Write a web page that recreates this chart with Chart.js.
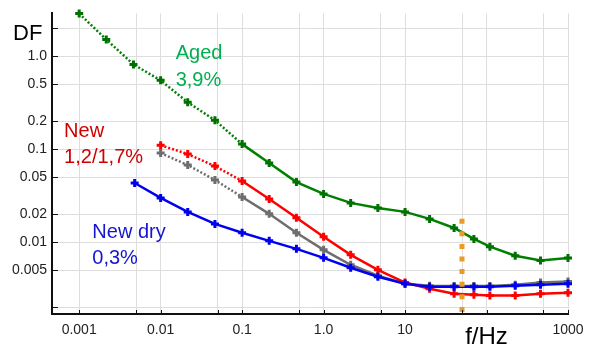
<!DOCTYPE html>
<html>
<head>
<meta charset="utf-8">
<script src="https://cdn.jsdelivr.net/npm/chart.js@4.4.1/dist/chart.umd.min.js"></script>
<style>
html, body { margin: 0; padding: 0; background: #fff; }
#wrap { width: 592px; height: 347px; position: relative; }
</style>
</head>
<body>
<div id="wrap"><canvas id="dfChart"></canvas></div>
<script>
"use strict";

// frequencies in Hz
var freqAged = [0.001, 0.00215, 0.00464, 0.01, 0.0215, 0.0464, 0.1, 0.215, 0.464, 1, 2.15, 4.64, 10, 20, 40, 70, 110, 225, 460, 1000];
var freqNew = [0.01, 0.0215, 0.0464, 0.1, 0.215, 0.464, 1, 2.15, 4.64, 10, 20, 40, 70, 110, 225, 460, 1000];
var freqDry = [0.0048, 0.01, 0.0215, 0.0464, 0.1, 0.215, 0.464, 1, 2.15, 4.64, 10, 20, 40, 70, 110, 225, 460, 1000];

// dissipation factor
var dfAged = [2.89, 1.52, 0.82, 0.553, 0.321, 0.206, 0.114, 0.0713, 0.0446, 0.0332, 0.0266, 0.0235, 0.0213, 0.0179, 0.0143, 0.0109, 0.0090, 0.0072, 0.0064, 0.0068];
var dfNewRed = [0.111, 0.0891, 0.0662, 0.0457, 0.0293, 0.0184, 0.0115, 0.00736, 0.00508, 0.0037, 0.00318, 0.00281, 0.00274, 0.00268, 0.00268, 0.00281, 0.00288];
var dfNewGray = [0.0913, 0.0679, 0.0469, 0.0308, 0.0203, 0.0127, 0.00833, 0.00575, 0.00439, 0.0036, 0.00343, 0.0034, 0.0034, 0.0034, 0.0035, 0.0037, 0.0038];
var dfDry = [0.0435, 0.0301, 0.0213, 0.0158, 0.0127, 0.0104, 0.00853, 0.00683, 0.00534, 0.00428, 0.0036, 0.00334, 0.00334, 0.00334, 0.00334, 0.00343, 0.0035, 0.0036];

// 50 Hz marker
var markFreq = [50, 50];
var markDf = [0.018, 0.00176];

var xTicks = [0.001, 0.005, 0.01, 0.05, 0.1, 0.5, 1, 5, 10, 50, 100, 500, 1000];
var xLabels = { 0.001: "0.001", 0.01: "0.01", 0.1: "0.1", 1: "1.0", 10: "10", 1000: "1000" };
var yTicks = [0.002, 0.005, 0.01, 0.02, 0.05, 0.1, 0.2, 0.5, 1, 2];
var yLabels = { 0.005: "0.005", 0.01: "0.01", 0.02: "0.02", 0.05: "0.05", 0.1: "0.1", 0.2: "0.2", 0.5: "0.5", 1: "1.0" };

function pts(xs, ys) {
    return xs.map(function (x, i) { return { x: x, y: ys[i] }; });
}

// low frequency part of the wet/aged curves is drawn dotted
var dotted = function (c) { return c.p1.parsed.x <= 0.1001 ? [2, 2] : undefined; };

function series(data, color, ptColor, dashFn) {
    var ds = {
        data: data,
        borderColor: color,
        backgroundColor: color,
        pointBorderColor: ptColor || color,
        borderWidth: 2.5,
        pointStyle: 'cross',
        pointRadius: 4,
        pointBorderWidth: 3,
        tension: 0,
        clip: false
    };
    if (dashFn) ds.segment = { borderDash: dashFn };
    return ds;
}

var notes = [
    { lines: ["Aged", "3,9%"], x: 0.0153, y: [0.929, 0.477], color: '#00b050' },
    { lines: ["New", "1,2/1,7%"], x: 0.000653, y: [0.1355, 0.0713], color: '#d00000' },
    { lines: ["New dry", "0,3%"], x: 0.00145, y: [0.0112, 0.0059], color: '#1515d0' }
];

var extras = {
    id: 'extras',
    afterDraw: function (chart) {
        var c = chart.ctx, xs = chart.scales.x, ys = chart.scales.y, a = chart.chartArea;
        c.save();
        // inner ticks
        c.strokeStyle = '#111';
        c.lineWidth = 1;
        yTicks.forEach(function (v) {
            var p = Math.round(ys.getPixelForValue(v)) + 0.5;
            c.beginPath(); c.moveTo(a.left, p); c.lineTo(a.left + 6, p); c.stroke();
        });
        xTicks.forEach(function (v) {
            var p = Math.round(xs.getPixelForValue(v)) + 0.5;
            c.beginPath(); c.moveTo(p, a.bottom); c.lineTo(p, a.bottom - 4); c.stroke();
        });
        // series notes
        c.font = '20px "Liberation Sans", Arial, sans-serif';
        c.textAlign = 'left';
        c.textBaseline = 'alphabetic';
        notes.forEach(function (n) {
            c.fillStyle = n.color;
            n.lines.forEach(function (t, i) {
                c.fillText(t, xs.getPixelForValue(n.x), ys.getPixelForValue(n.y[i]));
            });
        });
        // axis titles
        c.fillStyle = '#000';
        c.font = '22px "Liberation Sans", Arial, sans-serif';
        c.fillText("DF", 13, 40);
        c.font = '24px "Liberation Sans", Arial, sans-serif';
        c.textAlign = 'center';
        c.fillText("f/Hz", xs.getPixelForValue(100), 344);
        c.restore();
    }
};

var ctx = document.getElementById("dfChart").getContext("2d");
new Chart(ctx, {
    type: 'line',
    data: {
        datasets: [
            {
                data: pts(markFreq, markDf),
                borderColor: '#ec9a22',
                borderWidth: 5,
                borderDash: [5, 7.6],
                borderCapStyle: 'butt',
                pointRadius: 0,
                clip: false
            },
            series(pts(freqDry, dfDry), '#0000f0'),
            series(pts(freqNew, dfNewRed), '#ff0000', null, dotted),
            series(pts(freqNew, dfNewGray), '#6e6e6e', null, dotted),
            series(pts(freqAged, dfAged), '#008000', '#007000', dotted)
        ]
    },
    options: {
        responsive: true,
        maintainAspectRatio: false,
        animation: false,
        layout: { padding: { top: 12, right: 24, left: 0, bottom: 0 } },
        plugins: { legend: { display: false }, tooltip: { enabled: false } },
        scales: {
            x: {
                type: 'logarithmic',
                min: 0.000464,
                max: 1000,
                afterBuildTicks: function (s) { s.ticks = xTicks.map(function (v) { return { value: v }; }); },
                afterFit: function (s) { s.height = 33; },
                ticks: {
                    autoSkip: false,
                    maxRotation: 0,
                    padding: 8,
                    color: '#222',
                    font: { family: '"Liberation Sans", Arial, sans-serif', size: 14 },
                    callback: function (v) { return xLabels[v] || ''; }
                },
                grid: { color: '#dedede', lineWidth: 1, drawTicks: false },
                border: { display: true, color: '#111', width: 2 }
            },
            y: {
                type: 'logarithmic',
                min: 0.0017,
                max: 2.9,
                afterBuildTicks: function (s) { s.ticks = yTicks.map(function (v) { return { value: v }; }); },
                afterFit: function (s) { s.width = 52; },
                ticks: {
                    autoSkip: false,
                    padding: 5,
                    color: '#222',
                    font: { family: '"Liberation Sans", Arial, sans-serif', size: 14 },
                    callback: function (v) { return yLabels[v] || ''; }
                },
                grid: { color: '#dedede', lineWidth: 1, drawTicks: false },
                border: { display: true, color: '#111', width: 2 }
            }
        }
    },
    plugins: [extras]
});
</script>
</body>
</html>
